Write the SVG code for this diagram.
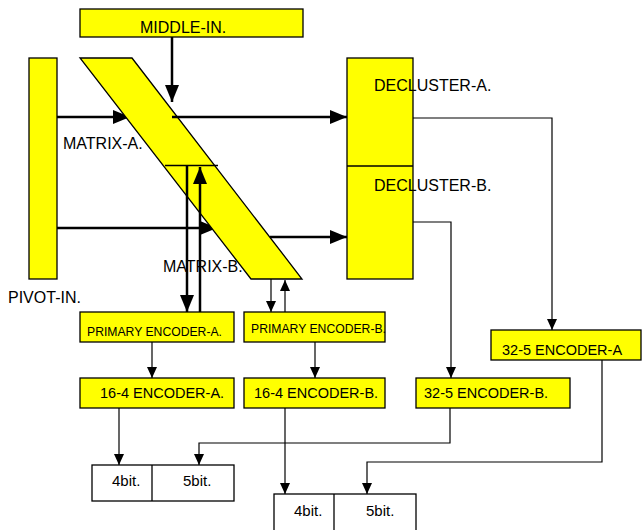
<svg xmlns="http://www.w3.org/2000/svg" width="642" height="530" viewBox="0 0 642 530">
<style>
  .box{fill:#ffff00;stroke:#000;stroke-width:1.3}
  .wbox{fill:#fff;stroke:#000;stroke-width:1.3}
  .t{font-family:"Liberation Sans",Arial,sans-serif;fill:#000}
  .thick{fill:none;stroke:#000;stroke-width:2.5}
  .thin{fill:none;stroke:#000;stroke-width:1.2}
</style>
<defs>
  <marker id="ah" markerUnits="userSpaceOnUse" markerWidth="17" markerHeight="14" refX="17" refY="7" orient="auto">
    <path d="M0,0 L17,7 L0,14 z" fill="#000"/>
  </marker>
  <marker id="as" markerUnits="userSpaceOnUse" markerWidth="11" markerHeight="10" refX="11" refY="5" orient="auto">
    <path d="M0,0 L11,5 L0,10 z" fill="#000"/>
  </marker>
</defs>
<rect width="642" height="530" fill="#fff"/>

<g id="connectors-back">
  <line class="thick" x1="57" y1="117" x2="130" y2="117" marker-end="url(#ah)"/>
  <line class="thick" x1="57" y1="228" x2="217" y2="228" marker-end="url(#ah)"/>
</g>

<g id="middle-in">
  <rect class="box" x="80" y="9" width="223" height="28"/>
  <text class="t" x="140" y="33" font-size="16">MIDDLE-IN.</text>
</g>
<g id="pivot-in">
  <rect class="box" x="29" y="58" width="28" height="221"/>
  <text class="t" x="8" y="303" font-size="16">PIVOT-IN.</text>
</g>
<g id="matrix">
  <polygon class="box" points="80,58 132,58 302,279 251,279"/>
  <line x1="165" y1="165.5" x2="218" y2="165.5" stroke="#000" stroke-width="1.3"/>
  <text class="t" x="63" y="149" font-size="16">MATRIX-A.</text>
  <text class="t" x="163" y="272" font-size="16">MATRIX-B.</text>
</g>
<g id="decluster">
  <rect class="box" x="347" y="58" width="66" height="221"/>
  <line x1="347" y1="166" x2="413" y2="166" stroke="#000" stroke-width="1.3"/>
  <text class="t" x="374" y="91" font-size="16">DECLUSTER-A.</text>
  <text class="t" x="374" y="191" font-size="16">DECLUSTER-B.</text>
</g>
<g id="primary-encoder-a">
  <rect class="box" x="80" y="312" width="154" height="30"/>
  <text class="t" x="87" y="336" font-size="12.2">PRIMARY ENCODER-A.</text>
</g>
<g id="primary-encoder-b">
  <rect class="box" x="244" y="312" width="141" height="30"/>
  <text class="t" x="251" y="333" font-size="12.2">PRIMARY ENCODER-B.</text>
</g>
<g id="encoder-16-4-a">
  <rect class="box" x="80" y="378" width="154" height="30"/>
  <text class="t" x="100" y="398" font-size="14.5">16-4 ENCODER-A.</text>
</g>
<g id="encoder-16-4-b">
  <rect class="box" x="244" y="378" width="141" height="30"/>
  <text class="t" x="254" y="398" font-size="14.5">16-4 ENCODER-B.</text>
</g>
<g id="encoder-32-5-a">
  <rect class="box" x="491" y="330" width="150" height="30"/>
  <text class="t" x="502" y="355" font-size="14.5">32-5 ENCODER-A</text>
</g>
<g id="encoder-32-5-b">
  <rect class="box" x="416" y="378" width="154" height="30"/>
  <text class="t" x="424" y="398" font-size="14.5">32-5 ENCODER-B.</text>
</g>
<g id="bits-1">
  <rect class="wbox" x="92" y="465" width="142" height="36"/>
  <line x1="152" y1="465" x2="152" y2="501" stroke="#000" stroke-width="1.3"/>
  <text class="t" x="112" y="486" font-size="15">4bit.</text>
  <text class="t" x="183" y="486" font-size="15">5bit.</text>
</g>
<g id="bits-2">
  <rect class="wbox" x="274" y="494" width="142" height="42"/>
  <line x1="334" y1="494" x2="334" y2="536" stroke="#000" stroke-width="1.3"/>
  <text class="t" x="294" y="516" font-size="15">4bit.</text>
  <text class="t" x="366" y="516" font-size="15">5bit.</text>
</g>

<g id="connectors">
  <line class="thick" x1="172" y1="37" x2="172" y2="102" marker-end="url(#ah)"/>
  <line class="thick" x1="172" y1="117" x2="347" y2="117" marker-end="url(#ah)"/>
  <line class="thick" x1="270" y1="237" x2="347" y2="237" marker-end="url(#ah)"/>
  <line class="thick" x1="187" y1="166" x2="187" y2="312" marker-end="url(#ah)"/>
  <line class="thick" x1="200" y1="312" x2="200" y2="167" marker-end="url(#ah)"/>
  <line class="thin" x1="271" y1="279" x2="271" y2="312" marker-end="url(#as)"/>
  <line class="thin" x1="285" y1="312" x2="285" y2="280" marker-end="url(#as)"/>
  <polyline class="thin" points="413,118 552,118 552,330" marker-end="url(#as)"/>
  <polyline class="thin" points="413,222 451,222 451,378" marker-end="url(#as)"/>
  <line class="thin" x1="152" y1="342" x2="152" y2="378" marker-end="url(#as)"/>
  <line class="thin" x1="315" y1="342" x2="315" y2="378" marker-end="url(#as)"/>
  <line class="thin" x1="119" y1="408" x2="119" y2="465" marker-end="url(#as)"/>
  <polyline class="thin" points="450,408 450,443 199,443 199,465" marker-end="url(#as)"/>
  <line class="thin" x1="285" y1="408" x2="285" y2="494" marker-end="url(#as)"/>
  <polyline class="thin" points="602,360 602,462 367,462 367,494" marker-end="url(#as)"/>
</g>
</svg>
